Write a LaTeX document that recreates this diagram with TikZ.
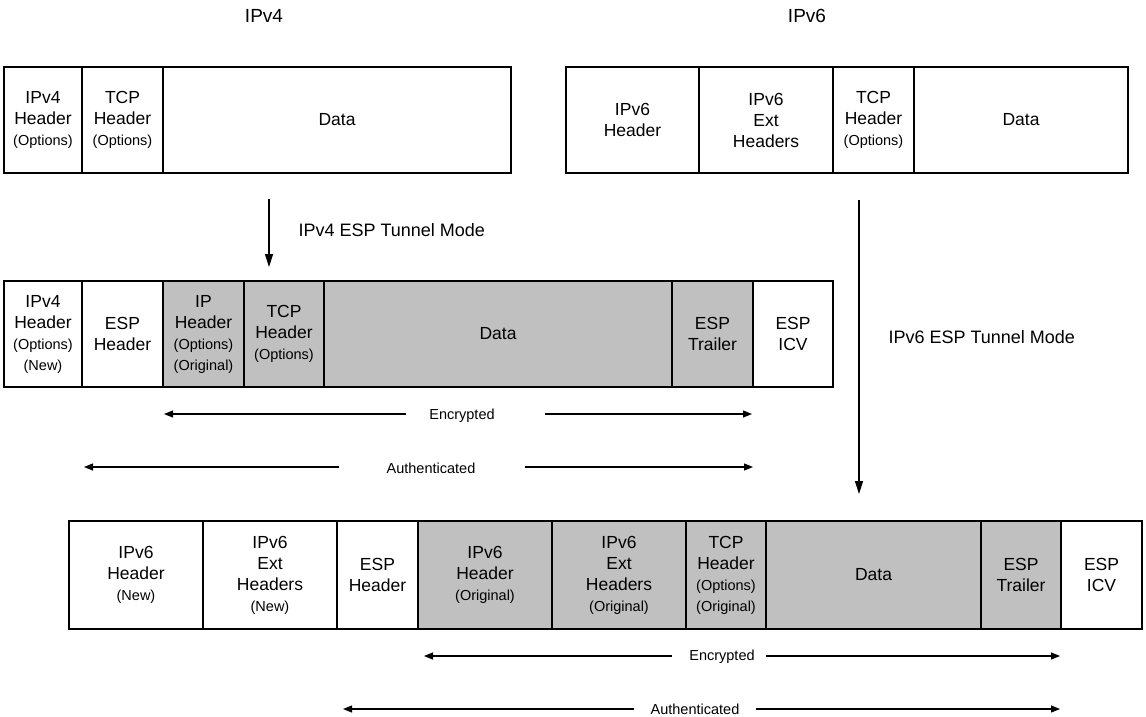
\documentclass[tikz,border=0pt]{standalone}
\usepackage{fontspec}
\setmainfont{Liberation Sans}
\usetikzlibrary{arrows.meta}
\definecolor{cgray}{RGB}{192,192,192}
\newcommand\smtxt[1]{{\fontsize{14.5}{21}\selectfont #1}}
\begin{document}
\begin{tikzpicture}[x=1pt,y=-1pt,
  cell/.style={draw, line width=1.1pt, anchor=north west, inner sep=0pt, outer sep=0pt,
    align=center, font=\fontsize{17.5}{21}\selectfont},
  rowa/.style={minimum height=106pt},
  rowc/.style={minimum height=108pt},
  shade/.style={fill=cgray},
  title/.style={font=\fontsize{19}{22}\selectfont},
  modelbl/.style={anchor=west, font=\fontsize{18}{21}\selectfont},
  rangelbl/.style={font=\fontsize{14.5}{17}\selectfont, inner sep=0pt},
  harr/.style={line width=1.1pt, -{Triangle[length=9pt,width=7pt]}},
  varr/.style={line width=1.3pt, -{Triangle[length=13pt,width=8pt]}}]
\useasboundingbox (0,0) rectangle (1146,716);

% titles
\node[title] (t4) at (264,16) {IPv4};
\node[title] (t6) at (807,16) {IPv6};

% IPv4 original
\node[cell,rowa,minimum width=78] (a1) at (4,67) {IPv4\\Header\\\smtxt{(Options)}};
\node[cell,rowa,minimum width=81] (a2) at (82,67) {TCP\\Header\\\smtxt{(Options)}};
\node[cell,rowa,minimum width=348] (a3) at (163,67) {Data};

% IPv6 original
\node[cell,rowa,minimum width=133] (b1) at (566,67) {IPv6\\Header};
\node[cell,rowa,minimum width=134] (b2) at (699,67) {IPv6\\Ext\\Headers};
\node[cell,rowa,minimum width=81] (b3) at (833,67) {TCP\\Header\\\smtxt{(Options)}};
\node[cell,rowa,minimum width=214] (b4) at (914,67) {Data};

% IPv4 ESP tunnel
\node[cell,rowa,minimum width=78] (c1) at (4,281) {IPv4\\Header\\\smtxt{(Options)}\\\smtxt{(New)}};
\node[cell,rowa,minimum width=81] (c2) at (82,281) {ESP\\Header};
\node[cell,rowa,shade,minimum width=81] (c3) at (163,281) {IP\\Header\\\smtxt{(Options)}\\\smtxt{(Original)}};
\node[cell,rowa,shade,minimum width=80] (c4) at (244,281) {TCP\\Header\\\smtxt{(Options)}};
\node[cell,rowa,shade,minimum width=348] (c5) at (324,281) {Data};
\node[cell,rowa,shade,minimum width=81] (c6) at (672,281) {ESP\\Trailer};
\node[cell,rowa,minimum width=80] (c7) at (753,281) {ESP\\ICV};

% IPv6 ESP tunnel
\node[cell,rowc,minimum width=134] (d1) at (69,521) {IPv6\\Header\\\smtxt{(New)}};
\node[cell,rowc,minimum width=134] (d2) at (203,521) {IPv6\\Ext\\Headers\\\smtxt{(New)}};
\node[cell,rowc,minimum width=81] (d3) at (337,521) {ESP\\Header};
\node[cell,rowc,shade,minimum width=134] (d4) at (418,521) {IPv6\\Header\\\smtxt{(Original)}};
\node[cell,rowc,shade,minimum width=134] (d5) at (552,521) {IPv6\\Ext\\Headers\\\smtxt{(Original)}};
\node[cell,rowc,shade,minimum width=80] (d6) at (686,521) {TCP\\Header\\\smtxt{(Options)}\\\smtxt{(Original)}};
\node[cell,rowc,shade,minimum width=215] (d7) at (766,521) {Data};
\node[cell,rowc,shade,minimum width=80] (d8) at (981,521) {ESP\\Trailer};
\node[cell,rowc,minimum width=81] (d9) at (1061,521) {ESP\\ICV};

% vertical transform arrows
\coordinate (v4s) at (269,199);
\coordinate (v4e) at (269,267);
\draw[varr] (v4s) -- (v4e);
\node[modelbl] (m4) at (295,230) {IPv4 ESP Tunnel Mode};
\coordinate (v6s) at (859,200);
\coordinate (v6e) at (859,494);
\draw[varr] (v6s) -- (v6e);
\node[modelbl] (m6) at (885,337) {IPv6 ESP Tunnel Mode};

% IPv4 ranges
\node[rangelbl] (e4) at (462,416) {Encrypted};
\coordinate (e4l) at (164,414); \coordinate (e4gl) at (406,414);
\coordinate (e4gr) at (545,414); \coordinate (e4r) at (752,414);
\draw[harr] (e4gl) -- (e4l);
\draw[harr] (e4gr) -- (e4r);
\node[rangelbl] (u4) at (431,468) {Authenticated};
\coordinate (u4l) at (84,467); \coordinate (u4gl) at (339,467);
\coordinate (u4gr) at (525,467); \coordinate (u4r) at (753,467);
\draw[harr] (u4gl) -- (u4l);
\draw[harr] (u4gr) -- (u4r);

% IPv6 ranges
\node[rangelbl] (e6) at (722,657) {Encrypted};
\coordinate (e6l) at (424,656); \coordinate (e6gl) at (672,656);
\coordinate (e6gr) at (766,656); \coordinate (e6r) at (1060,656);
\draw[harr] (e6gl) -- (e6l);
\draw[harr] (e6gr) -- (e6r);
\node[rangelbl] (u6) at (695,709) {Authenticated};
\coordinate (u6l) at (343,709); \coordinate (u6gl) at (634,709);
\coordinate (u6gr) at (756,709); \coordinate (u6r) at (1060,709);
\draw[harr] (u6gl) -- (u6l);
\draw[harr] (u6gr) -- (u6r);
\end{tikzpicture}
\end{document}
